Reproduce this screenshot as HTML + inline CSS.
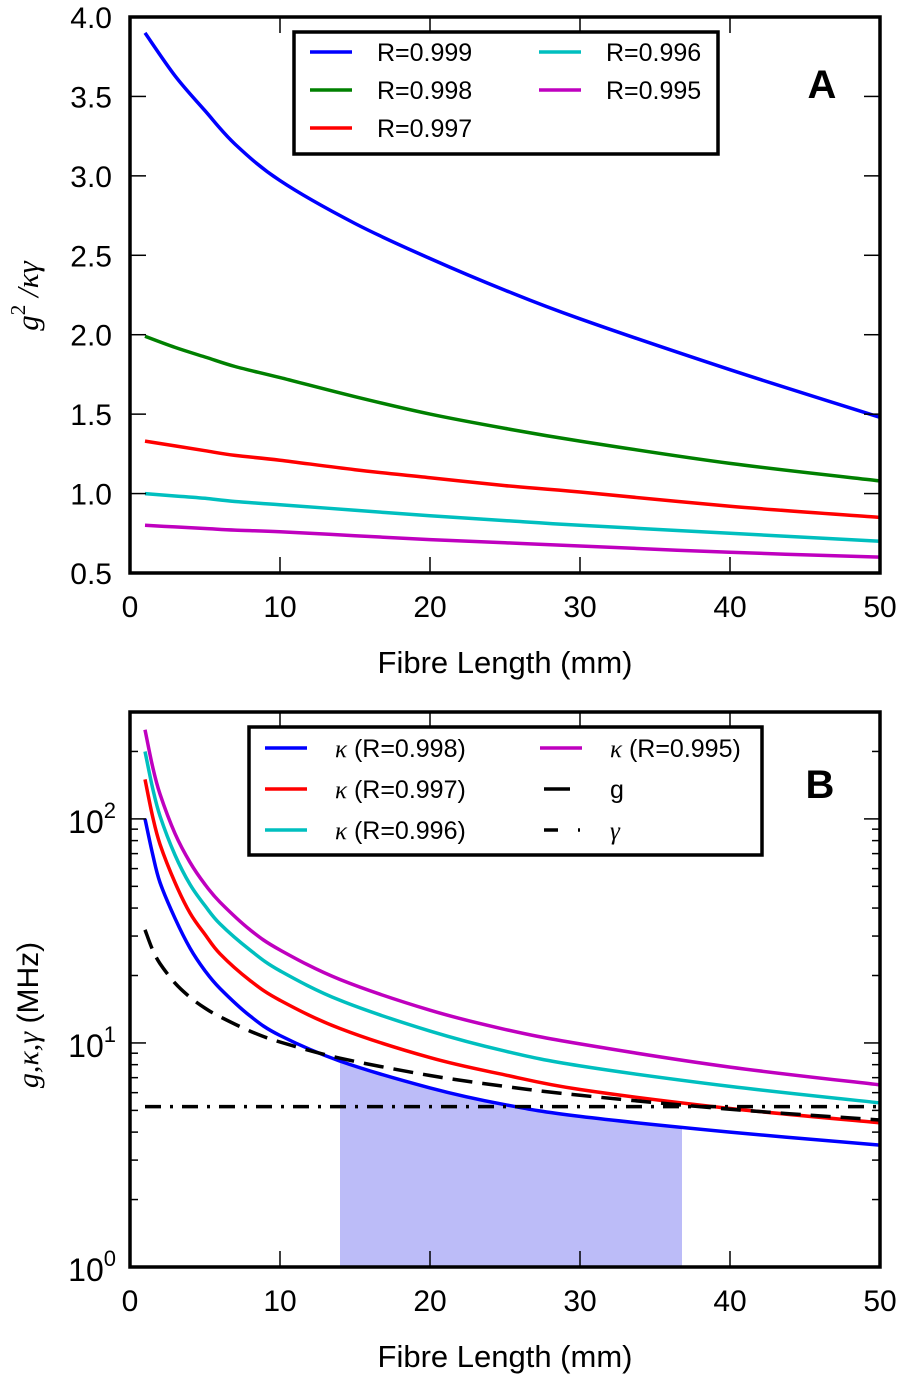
<!DOCTYPE html>
<html><head><meta charset="utf-8"><style>
html,body{margin:0;padding:0;background:#fff;}
svg{display:block;font-family:"Liberation Sans",sans-serif;}
</style></head><body>
<svg id="fig" width="900" height="1377" viewBox="0 0 900 1377" xmlns="http://www.w3.org/2000/svg">
<g id="panelA"></g>
<g id="panelB"></g>
</svg>
<script>
// ---- Panel A data ----
const xA = [1, 3, 5, 7, 10, 15, 20, 25, 30, 40, 50];
const aR999 = [3.90, 3.63, 3.41, 3.20, 2.97, 2.70, 2.48, 2.28, 2.10, 1.78, 1.48];
const aR998 = [1.99, 1.92, 1.86, 1.80, 1.73, 1.61, 1.50, 1.41, 1.33, 1.19, 1.08];
const aR997 = [1.33, 1.30, 1.27, 1.24, 1.21, 1.15, 1.10, 1.05, 1.01, 0.92, 0.85];
const aR996 = [1.00, 0.985, 0.97, 0.95, 0.93, 0.895, 0.86, 0.83, 0.80, 0.75, 0.70];
const aR995 = [0.80, 0.79, 0.78, 0.77, 0.76, 0.735, 0.71, 0.69, 0.67, 0.63, 0.60];
const aTicksY = ["0.5","1.0","1.5","2.0","2.5","3.0","3.5","4.0"];
const xTicks = ["0","10","20","30","40","50"];
// ---- Panel B data ----
const xB = [1, 1.5, 2, 3, 4, 5, 6, 8, 10, 14, 20, 25, 30, 40, 50];
const kR998 = [100, 70, 52, 36, 26.5, 21, 17.5, 13.2, 10.8, 8.3, 6.3, 5.3, 4.7, 4.0, 3.5];
const kR997 = [150, 103, 77, 52, 38, 30.5, 25, 19, 15.5, 11.6, 8.6, 7.2, 6.2, 5.1, 4.4];
const kR996 = [200, 138, 103, 69, 51, 41, 34, 26, 21, 15.5, 11.3, 9.2, 7.9, 6.4, 5.4];
const kR995 = [250, 172, 129, 86, 64, 51, 42.5, 32, 26, 19.2, 14, 11.5, 9.9, 7.8, 6.5];
const gVals = [32, 26.1, 22.6, 18.5, 16, 14.3, 13.1, 11.3, 10.1, 8.55, 7.16, 6.4, 5.84, 5.06, 4.53];
const gammaVal = [5.2, 5.2];
const gammaX = [1, 50];
const shadeRange = [14, 36.8];
const bTicksY = [0, 1, 2];

const NS = "http://www.w3.org/2000/svg";
function mk(parent, tag, attrs, text){
  const e = document.createElementNS(NS, tag);
  for (const k in attrs) e.setAttribute(k, attrs[k]);
  if (text !== undefined) e.textContent = text;
  parent.appendChild(e); return e;
}
const L = 130, R = 880;
const sx = x => L + (x / 50) * (R - L);
const aTop = 17, aBot = 573;
const syA = v => aBot - (v - 0.5) / 3.5 * (aBot - aTop);
const bTop = 712, bBot = 1267, bMaxLog = Math.log10(300);
const syB = v => bBot - Math.log10(v) / bMaxLog * (bBot - bTop);

function smoothPath(xs, ys, fx, fy){
  const p = xs.map((x,i)=>[fx(x), fy(ys[i])]);
  let d = "M" + p[0][0].toFixed(1) + "," + p[0][1].toFixed(1);
  for (let i=0;i<p.length-1;i++){
    const p0 = p[Math.max(0,i-1)], p1=p[i], p2=p[i+1], p3=p[Math.min(p.length-1,i+2)];
    const c1=[p1[0]+(p2[0]-p0[0])/6, p1[1]+(p2[1]-p0[1])/6];
    const c2=[p2[0]-(p3[0]-p1[0])/6, p2[1]-(p3[1]-p1[1])/6];
    d += " C"+c1[0].toFixed(1)+","+c1[1].toFixed(1)+" "+c2[0].toFixed(1)+","+c2[1].toFixed(1)+" "+p2[0].toFixed(1)+","+p2[1].toFixed(1);
  }
  return d;
}
const LW = 3.5;

// ================= PANEL A =================
const A = document.getElementById('panelA');
const seriesA = [[aR999,'#0000ff','R=0.999'],[aR998,'#008000','R=0.998'],[aR997,'#ff0000','R=0.997'],[aR996,'#00bfbf','R=0.996'],[aR995,'#bf00bf','R=0.995']];
seriesA.forEach((s,i)=>{
  const p = mk(A,'path',{d:smoothPath(xA,s[0],sx,syA),fill:'none',stroke:s[1],'stroke-width':LW});
  
  
});
const fa = mk(A,'rect',{x:L,y:aTop,width:R-L,height:aBot-aTop,fill:'none',stroke:'#000','stroke-width':3.5});


aTicksY.forEach(t=>{
  const y = syA(parseFloat(t));
  mk(A,'line',{x1:L,x2:L+16,y1:y,y2:y,stroke:'#000','stroke-width':1.5});
  mk(A,'line',{x1:R,x2:R-16,y1:y,y2:y,stroke:'#000','stroke-width':1.5});
  const tl = mk(A,'text',{x:L-18,y:y+11,'text-anchor':'end','font-size':30},t);
  
  
});
xTicks.forEach(t=>{
  const x = sx(parseFloat(t));
  mk(A,'line',{x1:x,x2:x,y1:aBot,y2:aBot-16,stroke:'#000','stroke-width':1.5});
  mk(A,'line',{x1:x,x2:x,y1:aTop,y2:aTop+16,stroke:'#000','stroke-width':1.5});
  const tl = mk(A,'text',{x:x,y:aBot+44,'text-anchor':'middle','font-size':30},t);
  
  
});
const xtA = mk(A,'text',{x:505,y:673,'text-anchor':'middle','font-size':31},'Fibre Length (mm)');


const ytA = mk(A,'text',{transform:'translate(38,296) rotate(-90)','text-anchor':'middle','font-size':31,'font-family':'"Liberation Serif",serif','font-style':'italic'});


ytA.innerHTML = 'g<tspan dy="-13" font-size="21" font-style="normal">2</tspan><tspan dy="13"> /κγ</tspan>';
const lA = mk(A,'rect',{x:294,y:32,width:424,height:122,fill:'#fff',stroke:'#000','stroke-width':3.5});


const posA = [[310,52],[310,90],[310,128],[539,52],[539,90]];
seriesA.forEach((s,i)=>{
  const [x,y]=posA[i];
  mk(A,'line',{x1:x,x2:x+42,y1:y,y2:y,stroke:s[1],'stroke-width':LW});
  const t = mk(A,'text',{x:x+67,y:y+9,'font-size':25},s[2]);
  
  
});
const la = mk(A,'text',{x:822,y:98,'text-anchor':'middle','font-size':40,'font-weight':'bold'},'A');



// ================= PANEL B =================
const B = document.getElementById('panelB');
(function(){
  const xs=[]; for(let x=shadeRange[0]; x<=shadeRange[1]+1e-9; x+=0.2) xs.push(Math.min(x,shadeRange[1]));
  const interp = x => { for(let i=0;i<xB.length-1;i++){ if(x>=xB[i]&&x<=xB[i+1]){const t=(x-xB[i])/(xB[i+1]-xB[i]); return Math.pow(10,Math.log10(kR998[i])*(1-t)+Math.log10(kR998[i+1])*t);} } return kR998[kR998.length-1]; };
  let d = "M"+sx(shadeRange[0])+","+bBot;
  xs.forEach(x=>{ d+=" L"+sx(x).toFixed(1)+","+syB(interp(x)).toFixed(1); });
  d += " L"+sx(shadeRange[1])+","+bBot+" Z";
  const s = mk(B,'path',{d:d,fill:'#bcbcf8',stroke:'none'});
  
  
})();
const seriesB = [[kR998,'#0000ff','κ (R=0.998)'],[kR997,'#ff0000','κ (R=0.997)'],[kR996,'#00bfbf','κ (R=0.996)'],[kR995,'#bf00bf','κ (R=0.995)']];
seriesB.forEach(s=>{
  const p = mk(B,'path',{d:smoothPath(xB,s[0],sx,syB),fill:'none',stroke:s[1],'stroke-width':LW});
  
  
});
const gp = mk(B,'path',{d:smoothPath(xB,gVals,sx,syB),fill:'none',stroke:'#000','stroke-width':LW,'stroke-dasharray':'20,10'});


const gm = mk(B,'path',{d:"M"+sx(gammaX[0])+","+syB(gammaVal[0])+" L"+sx(gammaX[1])+","+syB(gammaVal[1]),fill:'none',stroke:'#000','stroke-width':LW,'stroke-dasharray':'16,9,3,9'});


const fb = mk(B,'rect',{x:L,y:bTop,width:R-L,height:bBot-bTop,fill:'none',stroke:'#000','stroke-width':3.5});


for (let dec=0; dec<3; dec++){
  for (let m=1; m<10; m++){
    const v = m*Math.pow(10,dec); if (v>300) break;
    const y = syB(v), len = m===1?16:8;
    mk(B,'line',{x1:L,x2:L+len,y1:y,y2:y,stroke:'#000','stroke-width':1.5});
    mk(B,'line',{x1:R,x2:R-len,y1:y,y2:y,stroke:'#000','stroke-width':1.5});
  }
}
bTicksY.forEach(e=>{
  const y = syB(Math.pow(10,e));
  const t = mk(B,'text',{x:L-14,y:y+14,'text-anchor':'end','font-size':32});
  
  
  t.innerHTML = '10<tspan dy="-15" font-size="22">'+e+'</tspan>';
});
xTicks.forEach(t=>{
  const x = sx(parseFloat(t));
  mk(B,'line',{x1:x,x2:x,y1:bBot,y2:bBot-16,stroke:'#000','stroke-width':1.5});
  mk(B,'line',{x1:x,x2:x,y1:bTop,y2:bTop+16,stroke:'#000','stroke-width':1.5});
  const tl = mk(B,'text',{x:x,y:bBot+44,'text-anchor':'middle','font-size':30},t);
  
  
});
const xtB = mk(B,'text',{x:505,y:1367,'text-anchor':'middle','font-size':31},'Fibre Length (mm)');


const ytB = mk(B,'text',{transform:'translate(38,1015) rotate(-90)','text-anchor':'middle','font-size':30});


ytB.innerHTML = '<tspan font-family="Liberation Serif,serif" font-style="italic">g,κ,γ</tspan> (MHz)';
const lB = mk(B,'rect',{x:249,y:727,width:513,height:128,fill:'#fff',stroke:'#000','stroke-width':3.5});


const legB = [['#0000ff','κ (R=0.998)',''],['#ff0000','κ (R=0.997)',''],['#00bfbf','κ (R=0.996)',''],['#bf00bf','κ (R=0.995)',''],['#000','g','dash'],['#000','γ','dashdot']];
const posB = [[265,748],[265,789],[265,830],[540,748],[540,789],[540,830]];
legB.forEach((s,i)=>{
  const [x,y]=posB[i];
  if (s[2]==='dash') mk(B,'line',{x1:x+4,x2:x+30,y1:y,y2:y,stroke:'#000','stroke-width':LW});
  else if (s[2]==='dashdot'){ mk(B,'line',{x1:x+4,x2:x+18,y1:y,y2:y,stroke:'#000','stroke-width':LW}); mk(B,'line',{x1:x+38,x2:x+40,y1:y,y2:y,stroke:'#000','stroke-width':LW}); }
  else mk(B,'line',{x1:x,x2:x+42,y1:y,y2:y,stroke:s[0],'stroke-width':LW});
  const t = mk(B,'text',{x:x+70,y:y+9,'font-size':25});
  
  
  if (s[1].startsWith('κ')) t.innerHTML = '<tspan font-family="Liberation Serif,serif" font-style="italic">κ</tspan>'+s[1].slice(1);
  else if (s[1]==='γ') t.innerHTML = '<tspan font-family="Liberation Serif,serif" font-style="italic">γ</tspan>';
  else t.textContent = s[1];
});
const lb = mk(B,'text',{x:820,y:798,'text-anchor':'middle','font-size':40,'font-weight':'bold'},'B');


</script>
</body></html>
